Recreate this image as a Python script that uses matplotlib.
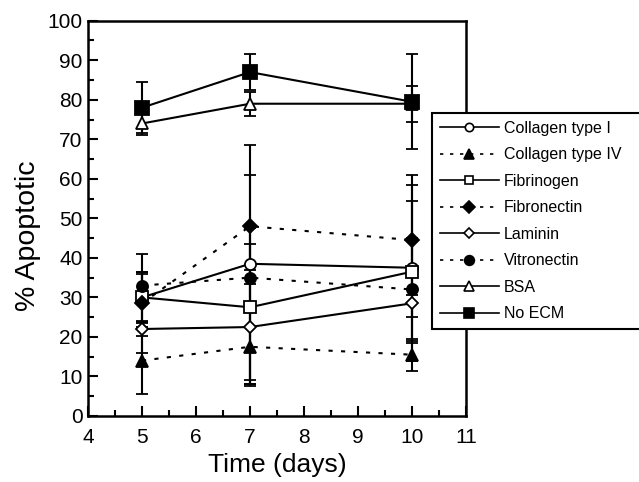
import numpy as np
import matplotlib
matplotlib.use('Agg')
from matplotlib import pyplot as plt
from matplotlib.ticker import MultipleLocator
from matplotlib.lines import Line2D

plt.rcParams['font.family'] = ['Liberation Sans', 'DejaVu Sans']

days = [5, 7, 10]
names = ['Collagen type I', 'Collagen type IV', 'Fibrinogen', 'Fibronectin',
         'Laminin', 'Vitronectin', 'BSA', 'No ECM']
col1 = [30.0, 38.5, 37.5]
col1_err = [6.0, 5.0, 23.5]
col4 = [14.0, 17.5, 15.5]
col4_err = [8.5, 9.5, 4.0]
fibrinogen = [30.0, 27.5, 36.5]
fibrinogen_err = [6.5, 20.0, 18.0]
fibronectin = [28.5, 48.0, 44.5]
fibronectin_err = [12.5, 20.5, 14.0]
laminin = [22.0, 22.5, 28.5]
laminin_err = [1.8, 14.5, 3.5]
vitronectin = [33.0, 35.0, 32.0]
vitronectin_err = [3.5, 26.0, 13.0]
bsa = [74.0, 79.0, 79.0]
bsa_err = [3.0, 3.0, 4.5]
noecm = [78.0, 87.0, 79.5]
noecm_err = [6.5, 4.5, 12.0]

series = [col1, col4, fibrinogen, fibronectin, laminin, vitronectin, bsa, noecm]
errors = [col1_err, col4_err, fibrinogen_err, fibronectin_err, laminin_err,
          vitronectin_err, bsa_err, noecm_err]
markers = ['o', '^', 's', 'D', 'D', 'o', '^', 's']
fills = ['white', 'black', 'white', 'black', 'white', 'black', 'white', 'black']
sizes = [8, 8, 8, 7, 6, 8, 9, 10]
leg_sizes = [6, 7, 6, 6, 5, 7, 7, 7]
styles = ['-', (0, (2, 4)), '-', (0, (2, 4)), '-', (0, (2, 4)), '-', '-']

fig = plt.figure(figsize=(6.39, 4.82), dpi=100)
ax = fig.add_axes([0.1377, 0.137, 0.5915, 0.82])

handles = []
for vals, err, m, fc, ms, lms, ls, name in zip(series, errors, markers, fills, sizes,
                                               leg_sizes, styles, names):
    ax.errorbar(days, vals, yerr=err, color='black', linestyle=ls, linewidth=1.5,
                marker=m, markerfacecolor=fc, markeredgecolor='black', markeredgewidth=1.3,
                markersize=ms, capsize=4, capthick=1.5, elinewidth=1.5)
    handles.append(Line2D([], [], color='black', linestyle=ls, linewidth=1.2, marker=m,
                          markerfacecolor=fc, markeredgecolor='black', markeredgewidth=1.2,
                          markersize=lms, label=name))

ax.set_xlim(4, 11)
ax.set_ylim(0, 100)
ax.xaxis.set_major_locator(MultipleLocator(1))
ax.xaxis.set_minor_locator(MultipleLocator(0.5))
ax.yaxis.set_major_locator(MultipleLocator(10))
ax.yaxis.set_minor_locator(MultipleLocator(5))
ax.tick_params(which='both', direction='in', width=1.5, labelsize=15)
ax.tick_params(which='major', length=7)
ax.tick_params(which='minor', length=4)
ax.tick_params(axis='x', pad=9)
ax.tick_params(axis='y', pad=4)
for s in ax.spines.values():
    s.set_linewidth(1.8)

ax.set_xlabel('Time (days)', fontsize=19, labelpad=4)
ax.set_ylabel('% Apoptotic', fontsize=20.5)
ax.yaxis.set_label_coords(-0.125, 0.455)

# legend runs off the right edge like in the original
leg = ax.legend(handles=handles, loc='upper left', bbox_to_anchor=(0.676, 0.766, 0.36, 0),
                bbox_transform=fig.transFigure, mode='expand', fontsize=11.5, frameon=True,
                fancybox=False, edgecolor='black', handlelength=3.7, labelspacing=0.72,
                borderpad=0.5, handletextpad=0.3, borderaxespad=0)
leg.get_frame().set_linewidth(1.5)
leg.get_frame().set_alpha(1)

fig.savefig('out.png', dpi=100)
